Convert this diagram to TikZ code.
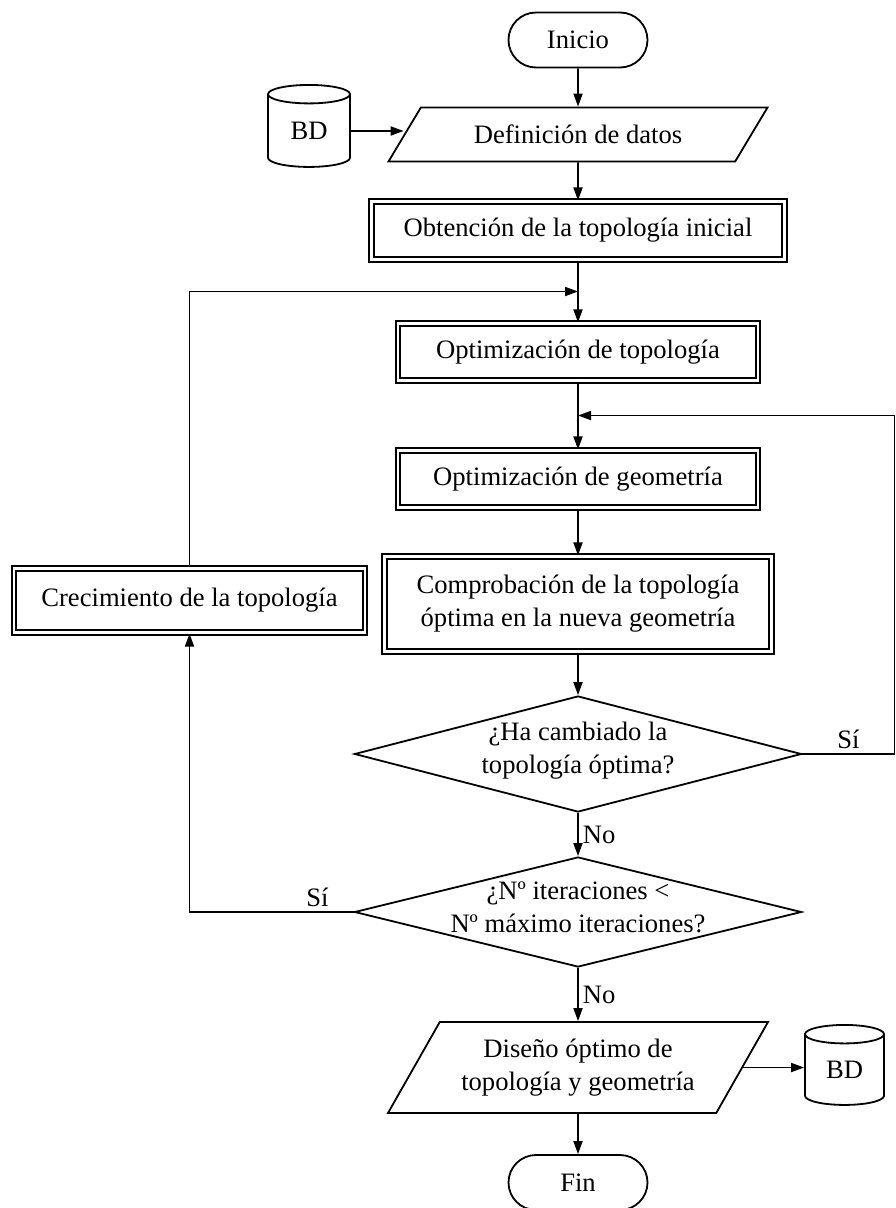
\documentclass[tikz,border=0pt]{standalone}
\usepackage{fontspec}
\setmainfont{Liberation Serif}
\usetikzlibrary{arrows.meta,positioning,calc,shapes.geometric,shapes.misc}

\begin{document}
\begin{tikzpicture}[
    x=1pt, y=-1pt,
    >={Triangle[length=13pt, width=9pt]},
    line width=1.8pt,
    every node/.style={font=\fontsize{26.6}{33}\selectfont},
    term/.style={draw, rounded rectangle, minimum width=143pt,
        minimum height=55pt, inner sep=2pt},
    proc/.style={draw, line width=2.2pt, double, double distance=2.4pt,
        inner sep=4pt, align=center},
    io/.style={draw, trapezium, trapezium stretches body, inner sep=2pt,
        align=center},
    db/.style={draw, cylinder, shape border rotate=90, aspect=0.5,
        minimum width=82pt, minimum height=82pt, inner sep=0pt},
    decision/.style={draw, diamond, minimum width=447pt, inner sep=0pt},
    lbl/.style={inner sep=4pt},
]
\useasboundingbox (0,0) rectangle (895,1208);

% Start and input
\node[term] (ini) at (578, 40) {Inicio};
\node[db] (bd1) at (309, 131) {BD};
\node[io, trapezium left angle=35.4, trapezium right angle=144.6,
    minimum width=379pt, minimum height=54pt] (def) at (578, 134.5)
    {Definición de datos};

\draw[->] (ini) -- (def);
\draw[->] (bd1.east) -- (bd1.east -| def.left side);

% Processes
\node[proc, minimum width=413pt, minimum height=58pt] (obt) at (578, 230.5)
    {Obtención de la topología inicial};
\node[proc, minimum width=360pt, minimum height=57pt] (otop) at (578, 352)
    {Optimización de topología};
\node[proc, minimum width=360pt, minimum height=57pt] (ogeo) at (578, 479)
    {Optimización de geometría};
\node[proc, minimum width=387pt, minimum height=95pt] (comp) at (578, 604)
    {Comprobación de la topología\\óptima en la nueva geometría};
\node[proc, minimum width=351pt, minimum height=64pt] (crec) at (189.5, 600.5)
    {Crecimiento de la topología};

% Junctions of the two loops
\coordinate (jl) at ($(obt.south)!.5!(otop.north)$);
\coordinate (jr) at ($(otop.south)!.5!(ogeo.north)$);

\draw[->] (def) -- (obt);
\draw[->] (obt) -- (otop);
\draw[->] (otop) -- (ogeo);
\draw[->] (ogeo) -- (comp);

% Decisions
\node[decision, minimum height=116pt] (q1) at (578, 754) {};
\node[align=center] (q1t) at ([yshift=3pt]q1.center)
    {¿Ha cambiado la\\topología óptima?};
\node[decision, minimum height=110pt] (q2) at (578, 912) {};
\node[align=center] (q2t) at ([yshift=5pt]q2.center)
    {¿Nº iteraciones <\\Nº máximo iteraciones?};

\draw[->] (comp) -- (q1);
\draw[->] (q1) -- node[lbl, right] {No} (q2);
\draw[->] (q1.east) -- node[lbl, above] {Sí} ++(92,0) |- (jr);
\draw[->] (q2.west) -- node[lbl, pos=.22, above] {Sí} (q2.west -| crec.south)
    -- (crec.south);
\draw[->] (crec.north) |- (jl);

% Output and end
\node[io, trapezium left angle=49.8, trapezium right angle=130.2,
    minimum width=380pt, minimum height=91pt] (dis) at (578, 1067.5)
    {Diseño óptimo de\\topología y geometría};
\node[db, minimum width=79pt, minimum height=80pt] (bd2) at (844.5, 1070) {BD};
\node[term] (fin) at (578, 1182.5) {Fin};

\draw[->] (q2) -- node[lbl, right] {No} (dis);
\draw[->] (dis.right side) -- (dis.right side -| bd2.west);
\draw[->] (dis) -- (fin);

\end{tikzpicture}
\end{document}
